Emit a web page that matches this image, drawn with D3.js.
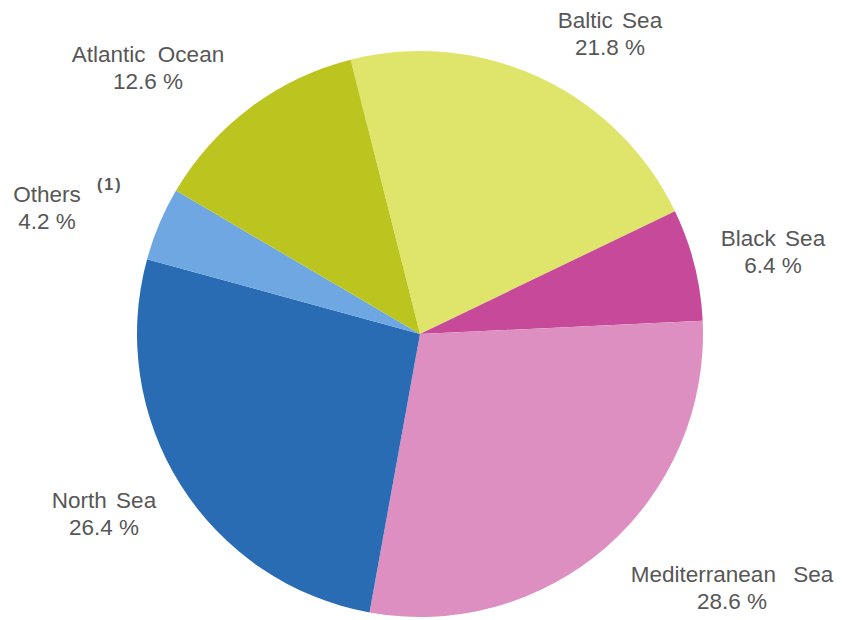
<!DOCTYPE html>
<html>
<head>
<meta charset="utf-8">
<script src="https://cdn.jsdelivr.net/npm/d3@7"></script>
<style>
  html, body { margin: 0; padding: 0; background: #ffffff; }
  svg { display: block; }
  text { font-family: "Liberation Sans", Arial, sans-serif; fill: #575757; }
</style>
</head>
<body>
<svg id="chart" width="846" height="620"></svg>
<script>
// ---- data ----
const categories = ["Baltic Sea", "Black Sea", "Mediterranean Sea", "North Sea", "Others", "Atlantic Ocean"];
const shares = [21.8, 6.4, 28.6, 26.4, 4.2, 12.6];
const valueLabels = ["21.8 %", "6.4 %", "28.6 %", "26.4 %", "4.2 %", "12.6 %"];
const footnotes = ["", "", "", "", "(1)", ""];
const colors = ["#dfe46a", "#c64a99", "#dd8fc1", "#2a6cb4", "#6ea7e1", "#bcc41f"];

// ---- layout (label anchor points, word spacing) ----
const labelPos = [
  [610, 28], [773, 246], [732, 582], [104, 508], [47, 202], [148, 62]
];
const wordGap = [3, 3, 11, 3, 3, 6];

const svg = d3.select("#chart");
const cx = 420, cy = 334, r = 283;
const startDeg = -14.2;

const pie = d3.pie()
  .value(d => d)
  .sort(null)
  .startAngle(startDeg * Math.PI / 180)
  .endAngle((startDeg + 360) * Math.PI / 180);

const arc = d3.arc().innerRadius(0).outerRadius(r);

const g = svg.append("g").attr("transform", `translate(${cx},${cy})`);
g.selectAll("path")
  .data(pie(shares))
  .join("path")
  .attr("d", arc)
  .attr("fill", (d, i) => colors[i]);

const labels = svg.append("g");
categories.forEach((c, i) => {
  const [x, y] = labelPos[i];
  labels.append("text")
    .attr("x", x).attr("y", y)
    .attr("text-anchor", "middle")
    .attr("font-size", 22.5)
    .style("word-spacing", wordGap[i] + "px")
    .text(c);
  labels.append("text")
    .attr("x", x).attr("y", y + 27)
    .attr("text-anchor", "middle")
    .attr("font-size", 22.5)
    .text(valueLabels[i]);
  if (footnotes[i]) {
    labels.append("text")
      .attr("x", x + 50).attr("y", y - 12)
      .attr("text-anchor", "start")
      .attr("font-size", 16)
      .attr("font-weight", "bold")
      .style("letter-spacing", "2px")
      .text(footnotes[i]);
  }
});
</script>
</body>
</html>
